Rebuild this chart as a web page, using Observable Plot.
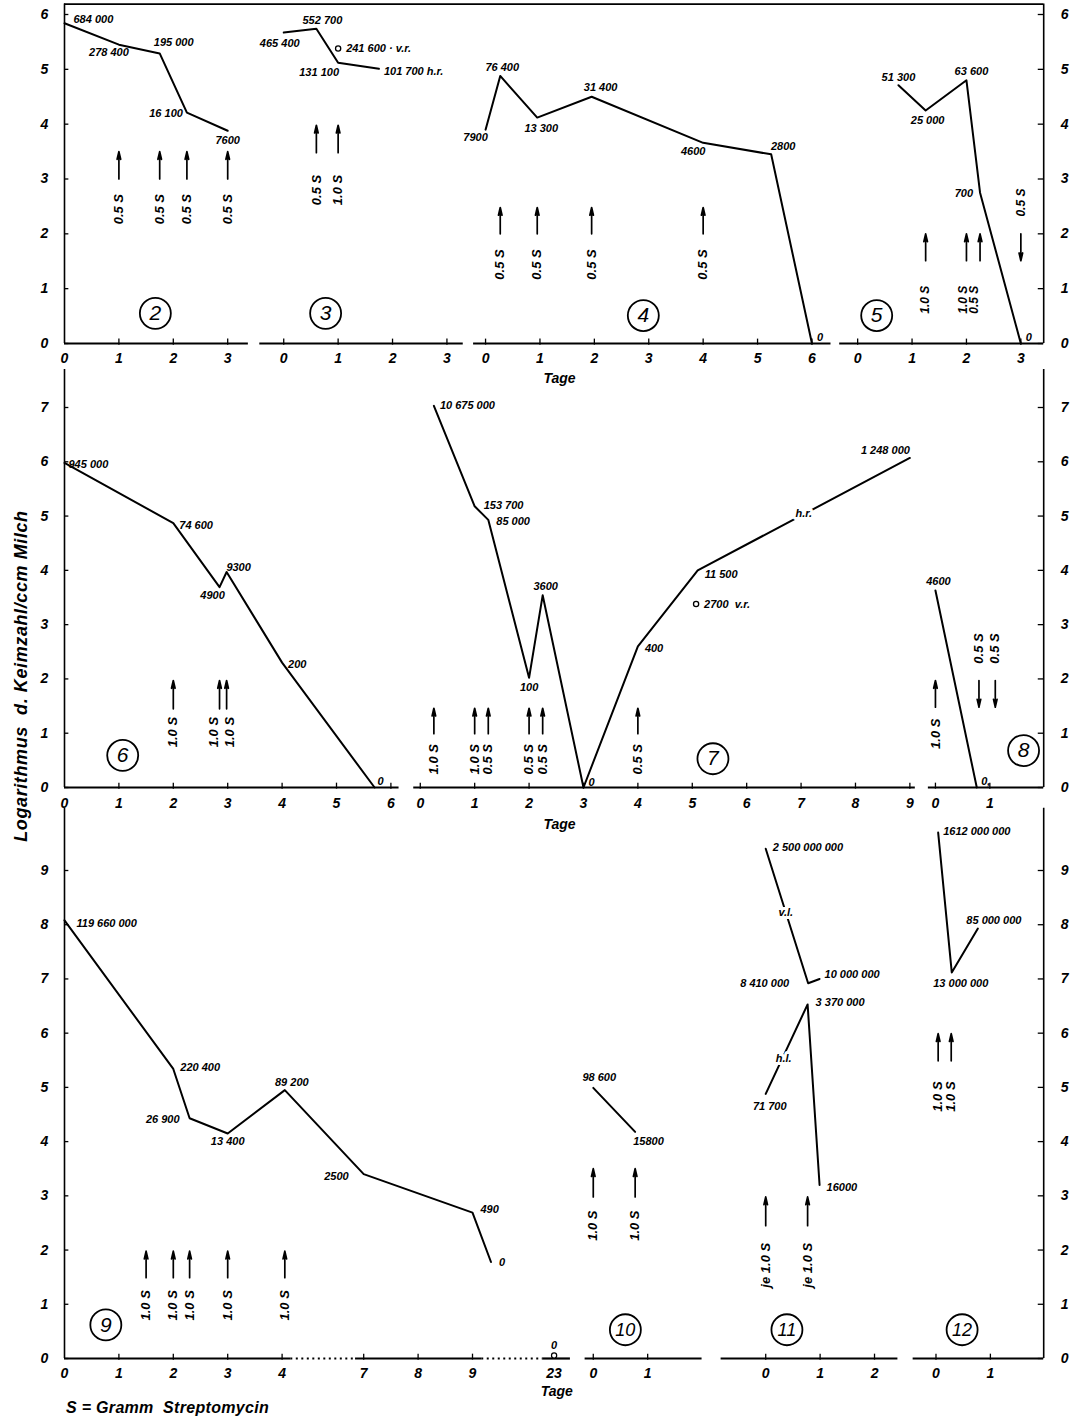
<!DOCTYPE html>
<html lang="de">
<head>
<meta charset="utf-8">
<script src="https://cdn.jsdelivr.net/npm/d3@7"></script>
<script src="https://cdn.jsdelivr.net/npm/@observablehq/plot@0.6"></script>
<style>
  body { margin: 0; background: #fff; }
  #wrap { position: relative; width: 1072px; height: 1423px; overflow: hidden; background: #fff; }
  #wrap svg { position: absolute; left: 0; top: 0; }
  .ytitle { position: absolute; left: 21px; top: 676px; transform: translate(-50%, -50%) rotate(-90deg);
            white-space: nowrap; font-family: "Liberation Sans", "DejaVu Sans", sans-serif; font-style: italic;
            font-weight: 600; font-size: 18px; letter-spacing: 0.6px; color: #000; }
  .caption { position: absolute; left: 66px; top: 1399px; white-space: nowrap;
             font-family: "Liberation Sans", "DejaVu Sans", sans-serif; font-style: italic; font-weight: 600;
             font-size: 16px; letter-spacing: 0.3px; color: #000; }
</style>
</head>
<body>
<div id="wrap">
  <div class="ytitle">Logarithmus&nbsp; d. Keimzahl/ccm Milch</div>
  <div class="caption">S = Gramm&nbsp; Streptomycin</div>
</div>
<script>
// ================= DATA (day, log10 count as drawn, printed count) =================
// ---- Row 1 ----
const p2Days = [0, 1, 1.75, 2.25, 3];
const p2Logs = [5.84, 5.45, 5.29, 4.21, 3.88];
const p2Text = ["684 000", "278 400", "195 000", "16 100", "7600"];
const p2Ticks = [0, 1, 2, 3];
const p2DoseDays = [1, 1.75, 2.25, 3];
const p2DoseText = ["0.5 S", "0.5 S", "0.5 S", "0.5 S"];

const p3Days = [0, 0.6, 1, 1.75];
const p3Logs = [5.67, 5.74, 5.12, 5.01];
const p3Text = ["465 400", "552 700", "131 100", "101 700 h.r."];
const p3OpenDays = [1];
const p3OpenLogs = [5.38];
const p3OpenText = ["241 600 · v.r."];
const p3Ticks = [0, 1, 2, 3];
const p3DoseDays = [0.6, 1];
const p3DoseText = ["0.5 S", "1.0 S"];

const p4Days = [0, 0.27, 0.95, 1.95, 4, 5.25, 6];
const p4Logs = [3.90, 4.88, 4.12, 4.50, 3.66, 3.45, 0];
const p4Text = ["7900", "76 400", "13 300", "31 400", "4600", "2800", "0"];
const p4Ticks = [0, 1, 2, 3, 4, 5, 6];
const p4DoseDays = [0.27, 0.95, 1.95, 4];
const p4DoseText = ["0.5 S", "0.5 S", "0.5 S", "0.5 S"];

const p5Days = [0.75, 1.25, 2, 2.25, 3];
const p5Logs = [4.71, 4.25, 4.80, 2.75, 0];
const p5Text = ["51 300", "25 000", "63 600", "700", "0"];
const p5Ticks = [0, 1, 2, 3];
const p5DoseDays = [1.25, 2, 2.25];
const p5DoseText = ["1.0 S", "1.0 S", "0.5 S"];
const p5DownDays = [3];
const p5DownText = ["0.5 S"];

// ---- Row 2 ----
const p6Days = [0, 2, 2.85, 2.98, 4, 5.7];
const p6Logs = [5.98, 4.87, 3.69, 3.97, 2.30, 0];
const p6Text = ["945 000", "74 600", "4900", "9300", "200", "0"];
const p6Ticks = [0, 1, 2, 3, 4, 5, 6];
const p6DoseDays = [2, 2.85, 2.98];
const p6DoseText = ["1.0 S", "1.0 S", "1.0 S"];

const p7Days = [0.25, 1, 1.25, 2, 2.25, 3, 4, 5.1, 9];
const p7Logs = [7.03, 5.18, 4.93, 2.02, 3.54, 0, 2.60, 4.0, 6.07];
const p7Text = ["10 675 000", "153 700", "85 000", "100", "3600", "0", "400", "11 500", "1 248 000"];
const p7OpenDays = [5.07];
const p7OpenLogs = [3.38];
const p7OpenText = ["2700  v.r."];
const p7NoteDays = [7.05];
const p7NoteLogs = [5.04];
const p7NoteText = ["h.r."];
const p7Ticks = [0, 1, 2, 3, 4, 5, 6, 7, 8, 9];
const p7DoseDays = [0.25, 1, 1.25, 2, 2.25, 4];
const p7DoseText = ["1.0 S", "1.0 S", "0.5 S", "0.5 S", "0.5 S", "0.5 S"];

const p8Days = [0, 0.76];
const p8Logs = [3.63, 0];
const p8Text = ["4600", "0,"];
const p8Ticks = [0, 1];
const p8DoseDays = [0];
const p8DoseText = ["1.0 S"];
const p8DownDays = [0.8, 1.1];
const p8DownText = ["0.5 S", "0.5 S"];

// ---- Row 3 ----
const p9Days = [0, 2, 2.3, 3, 4.05, 7, 9, 9.34];
const p9Logs = [8.08, 5.34, 4.43, 4.15, 4.95, 3.40, 2.69, 1.78];
const p9Text = ["119 660 000", "220 400", "26 900", "13 400", "89 200", "2500", "490", "0"];
const p9EndDays = [23];
const p9EndLogs = [0];
const p9EndText = ["0"];
const p9Ticks = [0, 1, 2, 3, 4, 7, 8, 9, 23];
const p9DoseDays = [1.5, 2, 2.3, 3, 4.05];
const p9DoseText = ["1.0 S", "1.0 S", "1.0 S", "1.0 S", "1.0 S"];

const p10Days = [0, 0.77];
const p10Logs = [4.99, 4.18];
const p10Text = ["98 600", "15800"];
const p10Ticks = [0, 1];
const p10DoseDays = [0, 0.77];
const p10DoseText = ["1.0 S", "1.0 S"];

const p11vlDays = [0, 0.78, 0.99];
const p11vlLogs = [9.40, 6.92, 7.0];
const p11vlText = ["2 500 000 000", "8 410 000", "10 000 000"];
const p11hlDays = [0, 0.77, 0.99];
const p11hlLogs = [4.88, 6.53, 3.2];
const p11hlText = ["71 700", "3 370 000", "16000"];
const p11NoteDays = [0.37, 0.33];
const p11NoteLogs = [8.23, 5.53];
const p11NoteText = ["v.l.", "h.l."];
const p11Ticks = [0, 1, 2];
const p11DoseDays = [0, 0.77];
const p11DoseText = ["je 1.0 S", "je 1.0 S"];

const p12Days = [0.04, 0.29, 0.77];
const p12Logs = [9.7, 7.12, 7.93];
const p12Text = ["1612 000 000", "13 000 000", "85 000 000"];
const p12Ticks = [0, 1];
const p12DoseDays = [0.04, 0.28];
const p12DoseText = ["1.0 S", "1.0 S"];

const yTicks1 = [0, 1, 2, 3, 4, 5, 6];
const yTicks2 = [0, 1, 2, 3, 4, 5, 6, 7];
const yTicks3 = [0, 1, 2, 3, 4, 5, 6, 7, 8, 9];

// ================= LAYOUT / STYLE =================
const LFONT = '"Liberation Sans","DejaVu Sans",sans-serif';
const LBL = {fontFamily: LFONT, fontSize: 11, fontWeight: "bold", fontStyle: "italic", fill: "black"};
const TICKF = {fontFamily: LFONT, fontSize: 14, fontWeight: "bold", fontStyle: "italic", fill: "black"};
const DOSEF = {fontFamily: LFONT, fontWeight: "bold", fontStyle: "italic", fill: "black"};

// label offsets [dx, dy, anchor]
const p2Place = [[9, -4, "start"], [-10, 8], [14, -11], [-4, 1, "end"], [0, 10]];
const p3Place = [[-4, 11], [6, -8], [-19, 10], [5, 3, "start"]];
const p4Place = [[-10, 8], [2, -8], [4, 11], [9, -9], [-10, 9], [12, -8], [8, -6]];
const p5Place = [[0, -8], [2, 10], [5, -9], [-7, 1, "end"], [8, -6]];
const p6Place = [[4, 2, "start"], [6, 2, "start"], [-7, 8], [12, -5], [6, 2, "start"], [6, -6]];
const p7Place = [[6, 0, "start"], [9, -1, "start"], [8, 2, "start"], [0, 10], [3, -9], [8, -5], [7, 2, "start"], [7, 4, "start"], [0, -8, "end"]];
const p8Place = [[3, -9], [9, -6]];
const p9Place = [[12, 3, "start"], [7, -1, "start"], [-10, 1, "end"], [0, 8], [7, -8], [-15, 2, "end"], [8, -3, "start"], [8, 0, "start"]];
const p10Place = [[6, -10], [-2, 10, "start"]];
const p11vlPlace = [[7, -1, "start"], [-19, 0, "end"], [5, -4, "start"]];
const p11hlPlace = [[4, 13], [8, -2, "start"], [7, 2, "start"]];
const p12Place = [[5, -1, "start"], [9, 11], [16, -8]];

// dose label horizontal nudges (px) where labels are stacked
const p5DoseDx = [0, -3, -6];
const p6DoseDx = [0, -6, 3];

const X_RANGE = [64, 64 + 18 * 54.4];

// ================= MARK HELPERS =================
function series(X, days, logs, texts, place) {
  const pts = days.map((d, i) => ({x: X(d), y: logs[i], t: texts[i], p: place[i]}));
  const m = [Plot.line(pts, {x: "x", y: "y", stroke: "black", strokeWidth: 2})];
  for (const q of pts) {
    m.push(Plot.text([q], {x: "x", y: "y", text: "t", dx: q.p[0], dy: q.p[1], textAnchor: q.p[2] || "middle", ...LBL}));
  }
  return m;
}
function openPts(X, days, logs, texts) {
  const pts = days.map((d, i) => ({x: X(d), y: logs[i], t: texts[i]}));
  return [
    Plot.dot(pts, {x: "x", y: "y", r: 2.6, stroke: "black", strokeWidth: 1.3, fill: "white"}),
    Plot.text(pts, {x: "x", y: "y", text: "t", dx: 8, textAnchor: "start", ...LBL})
  ];
}
function notes(X, days, logs, texts) {
  const pts = days.map((d, i) => ({x: X(d), y: logs[i], t: texts[i]}));
  return [
    Plot.text(pts, {x: "x", y: "y", text: "t", ...LBL, fill: "white", stroke: "white", strokeWidth: 6}),
    Plot.text(pts, {x: "x", y: "y", text: "t", ...LBL})
  ];
}
function doses(X, days, texts, lo, hi, labelY, opt = {}) {
  const dir = opt.dir || "up";
  const size = opt.size || 13;
  const dxs = opt.dx || days.map(() => 0);
  const pts = days.map((d, i) => ({x: X(d), t: texts[i], dx: dxs[i]}));
  const m = [
    Plot.arrow(pts, {x1: "x", x2: "x", y1: dir === "up" ? lo : hi, y2: dir === "up" ? hi : lo,
                     headLength: 7, headAngle: 26, strokeWidth: 1.7, stroke: "black"})
  ];
  for (const q of pts) {
    m.push(Plot.text([q], {x: "x", y: labelY, text: "t", rotate: -90, dx: q.dx, fontSize: size, ...DOSEF}));
  }
  return m;
}
function baseline(X, segs) {
  return segs.map(([a, b, dotted]) => Plot.ruleY([0], {x1: X(a), x2: X(b), stroke: "black",
    strokeWidth: 2.2, strokeDasharray: dotted ? "2,3.5" : null}));
}
function xTicks(X, ticks, skip = [0], labelDy = 15) {
  return [
    Plot.ruleX(ticks.filter(t => !skip.includes(t)).map(X), {x: d => d, y1: -0.03, y2: 0.08, stroke: "black", strokeWidth: 1.3}),
    Plot.text(ticks, {x: d => X(d), y: 0, text: d => String(d), dy: labelDy, ...TICKF})
  ];
}
function circled(X, day, y, n) {
  const c = [{x: X(day), y, n}];
  return [
    Plot.dot(c, {x: "x", y: "y", r: 15.5, stroke: "black", strokeWidth: 1.8, fill: "none"}),
    Plot.text(c, {x: "x", y: "y", text: "n", fontFamily: LFONT, fontStyle: "italic",
                  fontSize: n.length > 1 ? 18 : 21, fill: "black"})
  ];
}
function frame(yTop, ticks, withTop) {
  const m = [
    Plot.ruleX([0, 18], {x: d => d, y1: 0, y2: yTop, stroke: "black", strokeWidth: 1.6}),
    Plot.ruleY(ticks, {y: d => d, x1: 0, x2: 0.08, stroke: "black", strokeWidth: 1.3}),
    Plot.ruleY(ticks, {y: d => d, x1: 17.9, x2: 18, stroke: "black", strokeWidth: 1.3}),
    Plot.text(ticks, {x: 0, y: d => d, text: d => String(d), dx: -20, ...TICKF}),
    Plot.text(ticks, {x: 18, y: d => d, text: d => String(d), dx: 21, ...TICKF})
  ];
  if (withTop) m.push(Plot.ruleY([yTop], {x1: 0, x2: 18, stroke: "black", strokeWidth: 1.6}));
  return m;
}
function tage(u, dy) {
  return Plot.text(["Tage"], {x: u, y: 0, text: d => d, dy, fontFamily: LFONT, fontSize: 14,
                              fontWeight: "bold", fontStyle: "italic", fill: "black"});
}
function makePlot(yDomain, yRange, marks) {
  return Plot.plot({
    width: 1072, height: 1423, margin: 0,
    style: {background: "transparent", overflow: "visible"},
    x: {domain: [0, 18], range: X_RANGE, axis: null},
    y: {domain: yDomain, range: yRange, axis: null},
    marks
  });
}

// ================= ROW 1 =================
const o2 = d => 0 + d, o3 = d => 4.03 + d, o4 = d => 7.74 + d, o5 = d => 14.58 + d;
const row1 = makePlot([0, 6], [343, 14], [
  ...frame(6.19, yTicks1, true),
  ...baseline(o2, [[0, 3.38]]), ...baseline(o3, [[-0.44, 3.3]]),
  ...baseline(o4, [[-0.22, 6.35]]), ...baseline(o5, [[-0.33, 3.42]]),
  ...xTicks(o2, p2Ticks), ...xTicks(o3, p3Ticks, []), ...xTicks(o4, p4Ticks, []), ...xTicks(o5, p5Ticks, []),
  tage(9.1, 35),
  ...series(o2, p2Days, p2Logs, p2Text, p2Place),
  ...series(o3, p3Days, p3Logs, p3Text, p3Place),
  ...openPts(o3, p3OpenDays, p3OpenLogs, p3OpenText),
  ...series(o4, p4Days, p4Logs, p4Text, p4Place),
  ...series(o5, p5Days, p5Logs, p5Text, p5Place),
  ...doses(o2, p2DoseDays, p2DoseText, 3.0, 3.5, 2.45),
  ...doses(o3, p3DoseDays, p3DoseText, 3.48, 3.98, 2.8),
  ...doses(o4, p4DoseDays, p4DoseText, 2.0, 2.48, 1.44),
  ...doses(o5, p5DoseDays, p5DoseText, 1.51, 2.0, 0.8, {size: 12, dx: p5DoseDx}),
  ...doses(o5, p5DownDays, p5DownText, 1.51, 2.0, 2.57, {dir: "down", size: 12}),
  ...circled(o2, 1.67, 0.55, "2"), ...circled(o3, 0.77, 0.55, "3"),
  ...circled(o4, 2.9, 0.51, "4"), ...circled(o5, 0.35, 0.51, "5")
]);

// ================= ROW 2 =================
const o6 = d => 0 + d, o7 = d => 6.54 + d, o8 = d => 16.01 + d;
const row2 = makePlot([0, 7], [787, 407], [
  ...frame(7.7, yTicks2, false),
  ...baseline(o6, [[0, 6.15]]), ...baseline(o7, [[-0.12, 9.1]]), ...baseline(o8, [[-0.13, 1.99]]),
  ...xTicks(o6, p6Ticks, [0], 16), ...xTicks(o7, p7Ticks, [], 16), ...xTicks(o8, p8Ticks, [], 16),
  tage(9.1, 37),
  ...series(o6, p6Days, p6Logs, p6Text, p6Place),
  ...series(o7, p7Days, p7Logs, p7Text, p7Place),
  ...openPts(o7, p7OpenDays, p7OpenLogs, p7OpenText),
  ...notes(o7, p7NoteDays, p7NoteLogs, p7NoteText),
  ...series(o8, p8Days, p8Logs, p8Text, p8Place),
  ...doses(o6, p6DoseDays, p6DoseText, 1.45, 1.97, 1.02, {dx: p6DoseDx}),
  ...doses(o7, p7DoseDays, p7DoseText, 0.99, 1.46, 0.52),
  ...doses(o8, p8DoseDays, p8DoseText, 1.48, 1.97, 0.99),
  ...doses(o8, p8DownDays, p8DownText, 1.48, 1.97, 2.56, {dir: "down"}),
  ...circled(o6, 1.07, 0.59, "6"), ...circled(o7, 5.38, 0.53, "7"), ...circled(o8, 1.62, 0.68, "8")
]);

// ================= ROW 3 =================
// panel 9 has a broken time axis (4 → 7 and 9 → 23)
const p9Break = d => d <= 5 ? d : d <= 10 ? d - 1.5 : d - 14;
const o9u = u => 0 + u;
const o9 = d => o9u(p9Break(d));
const o10 = d => 9.72 + d, o11 = d => 12.89 + d, o12 = d => 16.02 + d;
const p9End = p9EndDays.map((d, i) => ({x: o9(d), y: p9EndLogs[i], t: p9EndText[i]}));
const row3 = makePlot([0, 9], [1358, 870], [
  ...frame(10.15, yTicks3, false),
  ...baseline(o9u, [[0, 4.16], [4.16, 5.35, true], [5.35, 7.67], [7.67, 8.79, true], [8.79, 9.3]]),
  ...baseline(o10, [[-0.15, 2.0]]), ...baseline(o11, [[-0.82, 2.43]]), ...baseline(o12, [[-0.42, 1.98]]),
  ...xTicks(o9, p9Ticks, [0, 23]), ...xTicks(o10, p10Ticks, []), ...xTicks(o11, p11Ticks, []), ...xTicks(o12, p12Ticks, []),
  tage(9.05, 33),
  ...series(o9, p9Days, p9Logs, p9Text, p9Place),
  Plot.dot(p9End, {x: "x", y: "y", r: 2.6, dy: -3, stroke: "black", strokeWidth: 1.2, fill: "white"}),
  Plot.text(p9End, {x: "x", y: "y", text: "t", dy: -13, ...LBL}),
  ...series(o10, p10Days, p10Logs, p10Text, p10Place),
  ...series(o11, p11vlDays, p11vlLogs, p11vlText, p11vlPlace),
  ...series(o11, p11hlDays, p11hlLogs, p11hlText, p11hlPlace),
  ...notes(o11, p11NoteDays, p11NoteLogs, p11NoteText),
  ...series(o12, p12Days, p12Logs, p12Text, p12Place),
  ...doses(o9, p9DoseDays, p9DoseText, 1.49, 1.98, 0.98),
  ...doses(o10, p10DoseDays, p10DoseText, 2.98, 3.5, 2.45),
  ...doses(o11, p11DoseDays, p11DoseText, 2.45, 2.98, 1.72),
  ...doses(o12, p12DoseDays, p12DoseText, 5.49, 5.99, 4.83),
  ...circled(o9, 0.76, 0.62, "9"), ...circled(o10, 0.59, 0.53, "10"),
  ...circled(o11, 0.39, 0.53, "11"), ...circled(o12, 0.48, 0.53, "12")
]);

const wrap = document.getElementById("wrap");
wrap.appendChild(row1);
wrap.appendChild(row2);
wrap.appendChild(row3);
</script>
</body>
</html>
